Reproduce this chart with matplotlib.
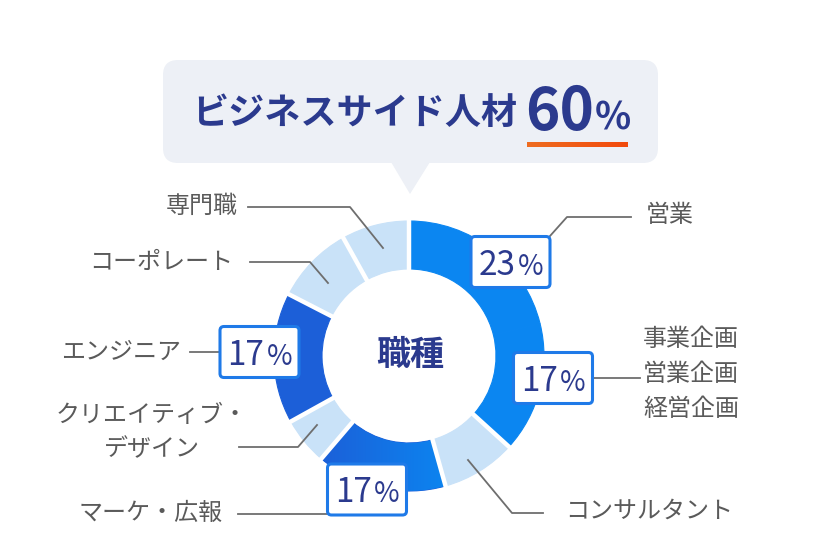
import numpy as np
import matplotlib
matplotlib.use("Agg")
import matplotlib.pyplot as plt
from matplotlib.patches import FancyBboxPatch, Polygon
from matplotlib.colors import LinearSegmentedColormap

plt.rcParams['font.family'] = ['Noto Sans CJK JP', 'DejaVu Sans']

# ---------------- data ----------------
categories = ["営業", "事業企画\n営業企画\n経営企画", "コンサルタント", "マーケ・広報",
              "クリエイティブ・\nデザイン", "エンジニア", "コーポレート", "専門職"]
shares = [23, 17, 9.7, 17, 6.2, 17, 10.2, 8.8]          # arc sizes
share_labels = ["23", "17", None, "17", None, "17", None, None]
center_label = "職種"
headline = "ビジネスサイド人材"
headline_value = "60"

# ---------------- style ----------------
W, H = 835, 556
BRIGHT = "#0B86F1"
DARK = "#1C5FD8"
LIGHT = "#C9E2F8"
seg_colors = [BRIGHT, BRIGHT, LIGHT, "grad", LIGHT, DARK, LIGHT, LIGHT]
gap_before = [True, False, True, True, True, True, True, True]
NAVY = "#2B3A8E"
GRAY = "#5A5A5A"
LINE = "#6E6E6E"
BORDER = "#1F7AE8"

fig = plt.figure(figsize=(W / 100, H / 100), dpi=100)
ax = fig.add_axes([0, 0, 1, 1])

def Y(y):
    return H - y

cx, cy = 409, Y(356)
R, width = 135, 48

face = [c if c != "grad" else DARK for c in seg_colors]
wedges, _ = ax.pie(shares, colors=face, startangle=90, counterclock=False,
                   radius=R, center=(cx, cy), frame=True,
                   wedgeprops=dict(width=width, linewidth=0.8))
for w in wedges:
    w.set_edgecolor(w.get_facecolor())

# gradient for the marketing segment
grad = np.linspace(0, 1, 256).reshape(1, -1)
cmap = LinearSegmentedColormap.from_list("g", [DARK, BRIGHT])
for w, c in zip(wedges, seg_colors):
    if c == "grad":
        im = ax.imshow(grad, extent=[318, 452, cy - R, cy + R], cmap=cmap,
                       aspect='auto', zorder=w.get_zorder() + 0.1, interpolation='bilinear')
        im.set_clip_path(w)

# white gaps between segments
total = sum(shares)
cum = np.concatenate([[0], np.cumsum(shares)])
for i in range(len(shares)):
    if not gap_before[i]:
        continue
    ang = np.deg2rad(90 - cum[i] / total * 360)
    r0, r1 = R - width - 3, R + 3
    ax.plot([cx + r0 * np.cos(ang), cx + r1 * np.cos(ang)],
            [cy + r0 * np.sin(ang), cy + r1 * np.sin(ang)],
            color="white", lw=3.2, solid_capstyle='butt', zorder=5)

ax.text(cx + 1, cy + 2, center_label, ha='center', va='center', fontsize=24.5,
        fontweight='bold', color=NAVY, zorder=6)

# ---------------- headline bubble ----------------
bub = FancyBboxPatch((163 + 15, Y(163) + 15), 495 - 30, 103 - 30,
                     boxstyle="round,pad=15", fc="#EDF0F6", ec="none", zorder=1)
ax.add_patch(bub)
ax.add_patch(Polygon([(391, Y(162)), (430, Y(162)), (410, Y(194))],
                     closed=True, fc="#EDF0F6", ec="none", zorder=1))
ax.text(192, Y(113), headline, ha='left', va='center', fontsize=26,
        fontweight='bold', color=NAVY, zorder=3)
ax.text(525, Y(130), headline_value, ha='left', va='baseline', fontsize=42,
        fontweight='bold', color=NAVY, zorder=3)
ax.text(595, Y(129), "%", ha='left', va='baseline', fontsize=27,
        fontweight='bold', color=NAVY, zorder=3)
ug = np.linspace(0, 1, 64).reshape(1, -1)
ucmap = LinearSegmentedColormap.from_list("u", ["#EE6C20", "#F24A0C"])
ax.imshow(ug, extent=[527, 628, Y(147), Y(142)], cmap=ucmap, aspect='auto', zorder=3)

# ---------------- percentage boxes ----------------
box_centers = {0: (510.5, 262), 1: (553, 378), 3: (367, 489.5), 5: (259.5, 352)}
bw, bh = 79, 51
for i, (bx, by) in box_centers.items():
    p = FancyBboxPatch((bx - bw / 2 + 4, Y(by) - bh / 2 + 4), bw - 8, bh - 8,
                       boxstyle="round,pad=4", fc="white", ec=BORDER, lw=2.2, zorder=7)
    ax.add_patch(p)
    ax.text(bx + 5, Y(by + 13), share_labels[i], ha='right', va='baseline',
            fontsize=24, color=NAVY, zorder=8)
    ax.text(bx + 7, Y(by + 13), "%", ha='left', va='baseline',
            fontsize=20, color=NAVY, zorder=8)

# ---------------- leader lines & labels ----------------
leaders = {
    0: [(550, 236), (567, 217), (631, 217)],
    1: [(593, 378), (640, 378)],
    2: [(468, 460), (512, 513), (543, 513)],
    3: [(327, 514), (238, 514)],
    4: [(317, 425), (298, 447), (239, 447)],
    5: [(220, 352), (190, 352)],
    6: [(328, 283), (310, 262), (250, 262)],
    7: [(383, 248), (350, 207), (248, 207)],
}
for i, pts in leaders.items():
    xs = [p[0] for p in pts]
    ys = [Y(p[1]) for p in pts]
    ax.plot(xs, ys, color=LINE, lw=1.3, zorder=6)

LFS = 17.3
label_pos = {
    0: (646, 215, 'left', 'left'),
    1: (643, 374, 'left', 'left'),
    2: (565, 511, 'left', 'left'),
    3: (223, 513, 'right', 'right'),
    4: (152, 432, 'center', 'center'),
    5: (181, 352, 'right', 'right'),
    6: (233, 262, 'right', 'right'),
    7: (238, 206, 'right', 'right'),
}
for i, (x, y, ha, ma) in label_pos.items():
    ax.text(x, Y(y), categories[i], ha=ha, va='center', multialignment=ma,
            fontsize=LFS, color=GRAY, linespacing=1.45, zorder=6)

ax.set_xlim(0, W)
ax.set_ylim(0, H)
ax.set_aspect('auto')
ax.axis('off')
fig.savefig("out.png", dpi=100, facecolor="white")
